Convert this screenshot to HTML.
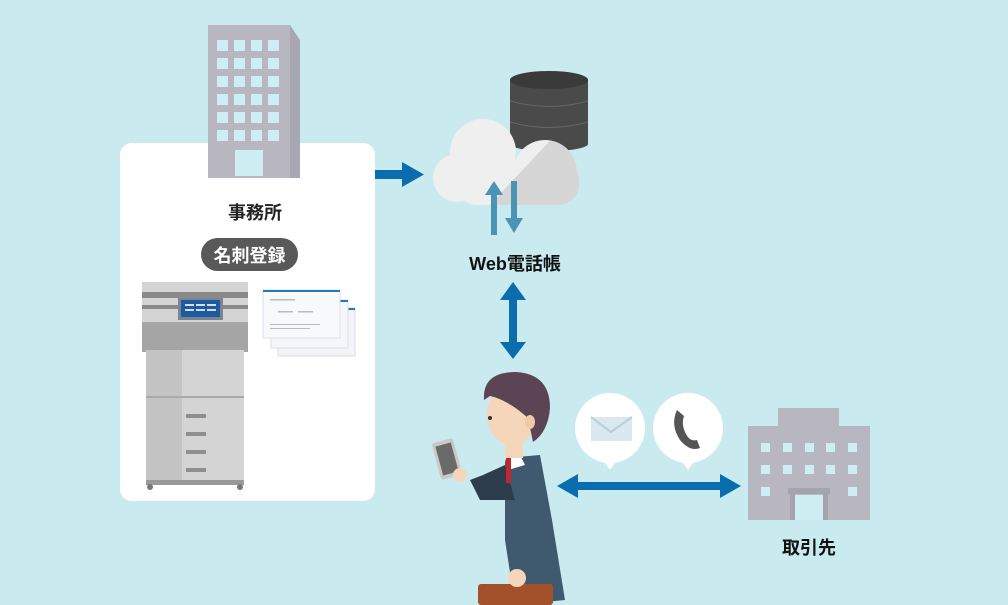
<!DOCTYPE html>
<html><head><meta charset="utf-8"><style>
html,body{margin:0;padding:0;background:#c9eaee;}
svg{display:block}
text{font-family:"Liberation Sans","Noto Sans CJK JP",sans-serif;font-weight:bold}
</style></head><body>
<svg width="1008" height="605" viewBox="0 0 1008 605" xmlns="http://www.w3.org/2000/svg">
<defs>
<clipPath id="cl">
<circle cx="483" cy="152" r="33"/>
<circle cx="457" cy="178" r="24"/>
<circle cx="545" cy="172" r="32"/>
<rect x="457" y="160" width="122" height="45" rx="20"/>
</clipPath>
</defs>
<rect width="1008" height="605" fill="#c9eaee"/>
<!-- card -->
<rect x="120" y="143" width="255" height="358" rx="12" fill="#fff"/>
<!-- office building -->
<polygon points="208,25 290,25 300,40 300,178 208,178" fill="#a9a7b3"/>
<rect x="208" y="25" width="82" height="153" fill="#b8b6c1"/>
<g fill="#cdeef3">
<rect x="217" y="40" width="11" height="11"/><rect x="234" y="40" width="11" height="11"/><rect x="251" y="40" width="11" height="11"/><rect x="268" y="40" width="11" height="11"/>
<rect x="217" y="58" width="11" height="11"/><rect x="234" y="58" width="11" height="11"/><rect x="251" y="58" width="11" height="11"/><rect x="268" y="58" width="11" height="11"/>
<rect x="217" y="76" width="11" height="11"/><rect x="234" y="76" width="11" height="11"/><rect x="251" y="76" width="11" height="11"/><rect x="268" y="76" width="11" height="11"/>
<rect x="217" y="94" width="11" height="11"/><rect x="234" y="94" width="11" height="11"/><rect x="251" y="94" width="11" height="11"/><rect x="268" y="94" width="11" height="11"/>
<rect x="217" y="112" width="11" height="11"/><rect x="234" y="112" width="11" height="11"/><rect x="251" y="112" width="11" height="11"/><rect x="268" y="112" width="11" height="11"/>
<rect x="217" y="130" width="11" height="11"/><rect x="234" y="130" width="11" height="11"/><rect x="251" y="130" width="11" height="11"/><rect x="268" y="130" width="11" height="11"/>
<rect x="235" y="150" width="28" height="26"/>
</g>
<text x="255" y="219" font-size="18" text-anchor="middle" fill="#222">事務所</text>
<rect x="201" y="238" width="97" height="33" rx="16.5" fill="#595959"/>
<text x="249.5" y="262" font-size="18" text-anchor="middle" fill="#fff">名刺登録</text>
<!-- copier -->
<rect x="142" y="282" width="106" height="40" fill="#d4d4d4"/>
<rect x="142" y="292" width="106" height="6" fill="#8a8a8a"/>
<rect x="142" y="305" width="106" height="4" fill="#8a8a8a"/>
<rect x="178" y="298" width="45" height="22" fill="#7a8594"/>
<rect x="181" y="300" width="39" height="17" fill="#1f5aa0"/>
<g fill="#cfe0f3"><rect x="185" y="304" width="9" height="2"/><rect x="196" y="304" width="9" height="2"/><rect x="207" y="304" width="9" height="2"/><rect x="185" y="309" width="9" height="2"/><rect x="196" y="309" width="9" height="2"/><rect x="207" y="309" width="9" height="2"/></g>
<rect x="142" y="322" width="106" height="30" fill="#a5a5a5"/>
<rect x="146" y="350" width="98" height="132" fill="#d4d4d4"/>
<rect x="146" y="350" width="36" height="132" fill="#c4c4c4"/>
<g fill="#8f8f8f"><rect x="186" y="414" width="20" height="4"/><rect x="186" y="432" width="20" height="4"/><rect x="186" y="450" width="20" height="4"/><rect x="186" y="468" width="20" height="4"/></g>
<rect x="146" y="396" width="98" height="2" fill="#aaa"/>
<rect x="146" y="480" width="98" height="5" fill="#999"/>
<circle cx="150" cy="487" r="3" fill="#777"/><circle cx="240" cy="487" r="3" fill="#777"/>
<!-- cards -->
<rect x="278" y="308" width="77" height="48" fill="#f2f4f7" stroke="#dde" />
<rect x="278" y="308" width="77" height="2" fill="#1f7ac0"/>
<rect x="271" y="300" width="77" height="48" fill="#f5f6f8" stroke="#dde"/>
<rect x="271" y="300" width="77" height="2" fill="#1f7ac0"/>
<rect x="263" y="290" width="77" height="48" fill="#f8f9fb" stroke="#dde"/>
<rect x="263" y="290" width="77" height="2" fill="#1f7ac0"/>
<g fill="#bbb"><rect x="270" y="299" width="25" height="1.5"/><rect x="278" y="311" width="15" height="1.5"/><rect x="298" y="311" width="15" height="1.5"/><rect x="270" y="324" width="50" height="1"/><rect x="270" y="328" width="40" height="1"/></g>
<!-- arrow right -->
<rect x="375" y="170" width="28" height="9" fill="#0a6eae"/>
<polygon points="402,162 424,174.5 402,187" fill="#0a6eae"/>
<!-- database -->
<rect x="510" y="80" width="78" height="64" fill="#4a4a4a"/>
<ellipse cx="549" cy="144" rx="39" ry="7" fill="#4a4a4a"/>
<ellipse cx="549" cy="80" rx="39" ry="9" fill="#3a3a3a"/>
<path d="M510 101 Q549 112 588 101" stroke="#666" fill="none"/>
<path d="M510 122 Q549 133 588 122" stroke="#666" fill="none"/>
<!-- cloud -->
<g clip-path="url(#cl)">
<rect x="420" y="110" width="170" height="100" fill="#efefef"/>
<polygon points="485,210 560,130 600,130 600,210" fill="#d6d6d6"/>
</g>
<!-- small arrows -->
<rect x="491" y="193" width="6" height="42" fill="#4a95b5"/>
<polygon points="485,195 494,181 503,195" fill="#4a95b5"/>
<rect x="511" y="181" width="6" height="40" fill="#4a95b5"/>
<polygon points="505,218 514,233 523,218" fill="#4a95b5"/>
<text x="515" y="270" font-size="18" text-anchor="middle" fill="#111">Web電話帳</text>
<!-- vertical double arrow -->
<rect x="509" y="296" width="8" height="50" fill="#0a6eae"/>
<polygon points="500,300 513,282 526,300" fill="#0a6eae"/>
<polygon points="500,342 513,359 526,342" fill="#0a6eae"/>
<!-- person -->
<path d="M505 458 L540 455 L552 520 L565 600 L515 605 L505 540 Z" fill="#3f5a6e"/>
<path d="M483 475 L505 465 L515 500 L480 500 L470 480 Z" fill="#2e3d4c"/>
<path d="M505 458 L520 455 L525 465 L508 470 Z" fill="#fff"/>
<rect x="506" y="455" width="5" height="28" fill="#c0262c"/>
<rect x="505" y="440" width="18" height="18" fill="#f6d6bb"/>
<ellipse cx="512" cy="415" rx="25" ry="30" fill="#f6d6bb"/>
<path d="M484 400 Q482 372 516 372 Q550 374 550 408 Q548 432 533 442 L528 418 Q508 400 490 396 Z" fill="#5b4453"/>
<ellipse cx="530" cy="422" rx="5" ry="7" fill="#f0c8a8"/>
<circle cx="490" cy="418" r="2" fill="#333"/>
<rect x="436" y="440" width="22" height="38" rx="3" fill="#c9c9c9" transform="rotate(-15 447 459)"/>
<rect x="439" y="444" width="16" height="30" fill="#6a6a6a" transform="rotate(-15 447 459)"/>
<circle cx="460" cy="475" r="7" fill="#f6d6bb"/>
<rect x="478" y="584" width="75" height="21" rx="3" fill="#a3512a"/>
<circle cx="517" cy="578" r="9" fill="#f6d6bb"/>
<!-- bubbles -->
<circle cx="610" cy="428" r="35" fill="#fff"/>
<polygon points="603,460 617,460 610,470" fill="#fff"/>
<rect x="591" y="417" width="41" height="24" fill="#d9e9ef"/>
<path d="M591 417 L611 432 L632 417" stroke="#b8cfd8" stroke-width="2" fill="none"/>
<circle cx="688" cy="428" r="35" fill="#fff"/>
<polygon points="681,460 695,460 688,470" fill="#fff"/>
<path d="M677 410 Q670 425 680 440 Q690 452 700 448 L697 440 Q690 442 686 434 Q681 425 684 416 Z" fill="#555"/>
<!-- horizontal double arrow -->
<rect x="570" y="482" width="160" height="8" fill="#0a6eae"/>
<polygon points="557,486 578,474 578,498" fill="#0a6eae"/>
<polygon points="741,486 720,474 720,498" fill="#0a6eae"/>
<!-- client building -->
<rect x="778" y="408" width="61" height="20" fill="#b8b6c1"/>
<rect x="748" y="426" width="122" height="94" fill="#b8b6c1"/>
<g fill="#cdeef3">
<rect x="761" y="443" width="9" height="9"/><rect x="783" y="443" width="9" height="9"/><rect x="805" y="443" width="9" height="9"/><rect x="826" y="443" width="9" height="9"/><rect x="848" y="443" width="9" height="9"/>
<rect x="761" y="465" width="9" height="9"/><rect x="783" y="465" width="9" height="9"/><rect x="805" y="465" width="9" height="9"/><rect x="826" y="465" width="9" height="9"/><rect x="848" y="465" width="9" height="9"/>
<rect x="761" y="487" width="9" height="9"/><rect x="848" y="487" width="9" height="9"/>
<rect x="795" y="495" width="28" height="25"/>
</g>
<rect x="788" y="488" width="42" height="6" fill="#a5a3ae"/>
<rect x="790" y="494" width="5" height="26" fill="#a5a3ae"/><rect x="823" y="494" width="5" height="26" fill="#a5a3ae"/>
<text x="809" y="554" font-size="18" text-anchor="middle" fill="#111">取引先</text>
</svg>
</body></html>
